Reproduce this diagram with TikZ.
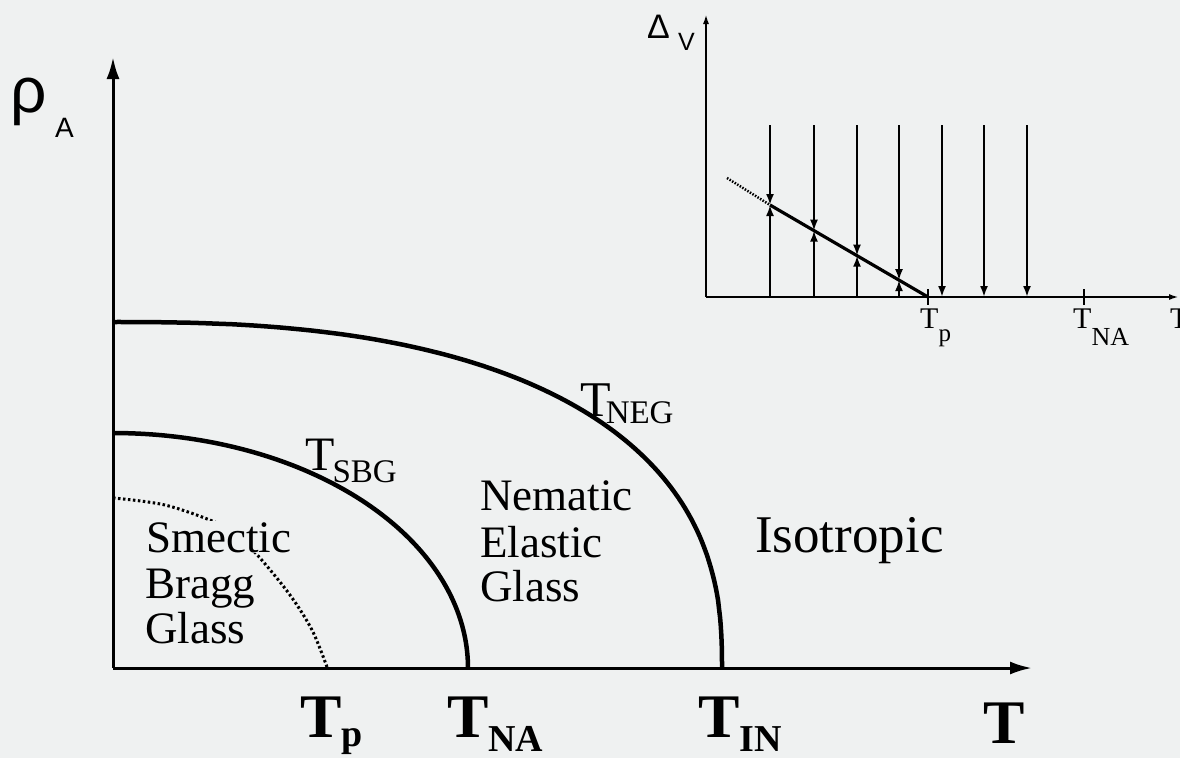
\documentclass[tikz,border=0pt]{standalone}
\usepackage{fontspec}
\setmainfont{Liberation Serif}
\newfontfamily\sansf{Liberation Sans}
\usetikzlibrary{arrows.meta}
\definecolor{bgc}{RGB}{239,241,241}
\newcommand\fsz[1]{\fontsize{#1}{#1}\selectfont}
\begin{document}
\begin{tikzpicture}[x=1pt,y=-1pt,
  mainaxis/.style={line width=3pt,-{Latex[length=22pt,width=13pt]}},
  phase/.style={line width=4.5pt,line join=round},
  dotline/.style={line width=3pt,dash pattern=on 2.5pt off 2.5pt},
  lbl/.style={anchor=base west,inner sep=0pt},
  inaxis/.style={line width=2.5pt,-{Latex[length=10pt,width=6pt]}},
  flow/.style={line width=2pt},
  tipA/.style={flow,-{Latex[length=11pt,width=8pt]}},
  slope/.style={line width=3.2pt}]
\useasboundingbox (0,0) rectangle (1180,758);
\fill[bgc] (0,0) rectangle (1180,758);

% ---------- main diagram ----------
\coordinate (O) at (113,668);
\coordinate (Ytop) at (113,57);
\coordinate (Xend) at (1032,668);
\draw[mainaxis] (O) -- (Ytop);
\draw[mainaxis] (O) -- (Xend);

% dotted T_p line
\draw[dotline] plot[smooth,tension=0.55] coordinates {(113,498) (165,505) (217,523) (240,538) (260,558) (290,595) (312,630) (327,667)};
% T_SBG line (quarter ellipse)
\coordinate (sbgA) at (468,668);
\coordinate (sbgB) at (113,433);
\draw[phase] (sbgA) -- plot[domain=0.2:89.8,samples=90] ({113+355*cos(\x)},{668-235*sin(\x)}) -- (sbgB);
% T_NEG line (quarter superellipse)
\coordinate (negA) at (722,668);
\coordinate (negB) at (113,322);
\draw[phase] (negA) -- plot[domain=0.2:89.8,samples=90] ({113+609*cos(\x)^0.8},{668-346*sin(\x)^0.8}) -- (negB);

\node[lbl] (rho) at (10,112) {\sansf\fsz{64}ρ};
\node[lbl] (rhoA) at (55,137) {\sansf\fsz{28}A};

\node[lbl] (tsbg) at (305,470) {\fsz{48}T\kern-2pt\raisebox{-12pt}{\fsz{33}SBG}};
\node[lbl] (tneg) at (580,416) {\fsz{50}T\kern-5pt\raisebox{-7pt}{\fsz{33}NEG}};

\node[lbl,fill=bgc,inner sep=1pt] (sm1) at (145,552) {\fsz{45}Smectic};
\node[lbl] (sm2) at (145,598) {\fsz{45}Bragg};
\node[lbl] (sm3) at (145,643) {\fsz{45}Glass};

\node[lbl] (ne1) at (480,510) {\fsz{45}Nematic};
\node[lbl] (ne2) at (480,557) {\fsz{45}Elastic};
\node[lbl] (ne3) at (480,601) {\fsz{45}Glass};

\node[lbl] (iso) at (755,552) {\fsz{53}Isotropic};

\node[lbl] (btp) at (300,737) {\bfseries\fsz{62}T\raisebox{-9pt}{\fsz{38}p}};
\node[lbl] (btna) at (447,737) {\bfseries\fsz{62}T\raisebox{-14pt}{\fsz{38}NA}};
\node[lbl] (btin) at (698,737) {\bfseries\fsz{62}T\raisebox{-14pt}{\fsz{38}IN}};
\node[lbl] (btt) at (983,743) {\bfseries\fsz{62}T};

% ---------- inset ----------
\coordinate (iO) at (706,297);
\coordinate (iYtop) at (706,14);
\coordinate (iXend) at (1179,297);
\draw[inaxis] (iO) -- (iYtop);
\draw[inaxis] (iO) -- (iXend);
\draw[line width=1.8pt] (928,289) -- (928,305);
\draw[line width=1.8pt] (1084,289) -- (1084,305);

\coordinate (sA) at (727,178);
\coordinate (sB) at (770,205);
\coordinate (sC) at (928,297);
\draw[line width=2.5pt,dash pattern=on 1.5pt off 1.5pt] (sA) -- (sB);
\draw[slope] (sB) -- (sC);

\foreach \x in {770,814,857,899}{
  \coordinate (m\x) at (\x,{205+(\x-770)*0.5823});
  \draw[tipA] (\x,125) -- (m\x);
  \draw[tipA] (\x,297) -- (m\x);
}
\foreach \x in {942,984,1027}{
  \draw[tipA] (\x,125) -- (\x,297);
}

\node[lbl] (dv) at (647,38) {\sansf\fsz{34}Δ};
\node[lbl] (dvv) at (678,50) {\sansf\fsz{25}V};

\node[lbl] (itp) at (920,328) {\fsz{30}T\raisebox{-13pt}{\fsz{25}p}};
\node[lbl] (itna) at (1073,328) {\fsz{30}T\raisebox{-17pt}{\fsz{26}NA}};
\node[lbl] (itt) at (1170,328) {\fsz{30}T};
\end{tikzpicture}
\end{document}
